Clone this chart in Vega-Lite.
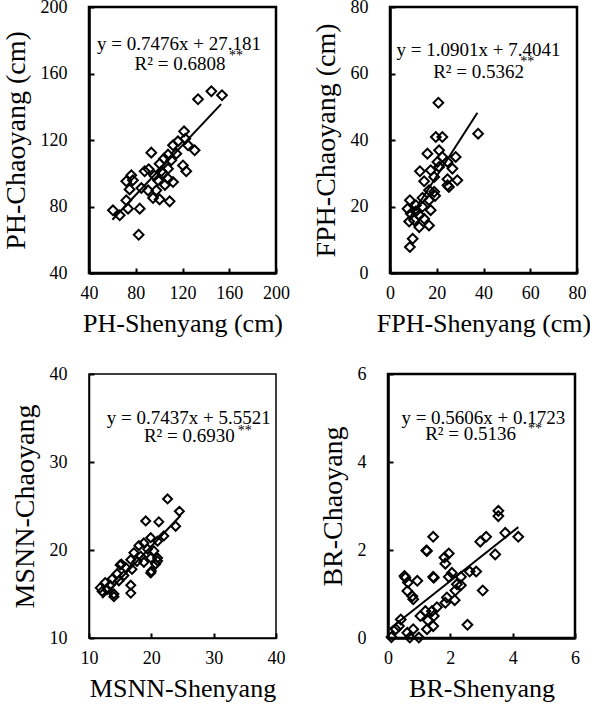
{
  "$schema": "https://vega.github.io/schema/vega-lite/v6.json",
  "padding": {"left": 0, "top": -4, "right": 0, "bottom": 0},
  "background": "white",
  "datasets": {
    "p1": [
      {"x":133.3,"y":144.5},{"x":144.7,"y":149.3},{"x":153.8,"y":146.9},{"x":121.3,"y":125.2},{"x":122.4,"y":120.8},
      {"x":116.1,"y":119.2},{"x":111.9,"y":116.8},{"x":124.7,"y":116.8},{"x":130.4,"y":113.8},{"x":93.3,"y":112.4},
      {"x":107.6,"y":111.2},{"x":104.2,"y":108.8},{"x":114.7,"y":111.8},{"x":110.4,"y":107.8},{"x":100.4,"y":105.7},
      {"x":120.4,"y":104.7},{"x":123.2,"y":101.2},{"x":87.6,"y":101.2},{"x":91.1,"y":102.4},{"x":101.9,"y":101.2},
      {"x":107.6,"y":102.7},{"x":76.2,"y":98.8},{"x":71.9,"y":95.2},{"x":77.6,"y":95.8},{"x":99.0,"y":95.8},
      {"x":107.6,"y":96.7},{"x":111.9,"y":94.7},{"x":74.7,"y":90.3},{"x":84.8,"y":91.1},{"x":90.5,"y":89.7},
      {"x":97.6,"y":89.7},{"x":94.8,"y":85.1},{"x":100.4,"y":84.3},{"x":109.0,"y":83.1},{"x":71.9,"y":83.7},
      {"x":73.4,"y":78.7},{"x":60.5,"y":77.7},{"x":66.3,"y":74.7},{"x":83.4,"y":78.7},{"x":82.5,"y":63.0},
      {"x":103.3,"y":100.0},{"x":96.0,"y":98.5},{"x":105.0,"y":93.0}
    ],
    "l1": [{"x":60,"y":72.0},{"x":153,"y":141.6}],
    "t1": [{"x":117,"y":177.7,"label":"y = 0.7476x + 27.181"},{"x":117.9,"y":165.7,"label":"R² = 0.6808"}],
    "s1": [{"x":165.8,"y":170.5,"label":"**"}],
    "p2": [
      {"x":20.7,"y":51.2},{"x":37.7,"y":41.9},{"x":19.6,"y":40.9},{"x":22.4,"y":40.9},{"x":16.0,"y":35.9},
      {"x":21.0,"y":36.9},{"x":22.4,"y":34.9},{"x":28.1,"y":34.9},{"x":20.3,"y":33.4},{"x":24.6,"y":33.4},
      {"x":12.8,"y":30.6},{"x":17.4,"y":30.9},{"x":21.0,"y":31.9},{"x":26.7,"y":31.4},{"x":14.6,"y":27.6},
      {"x":18.9,"y":28.9},{"x":24.6,"y":28.2},{"x":28.8,"y":27.9},{"x":25.2,"y":25.9},{"x":16.7,"y":24.9},
      {"x":18.9,"y":24.4},{"x":8.5,"y":21.9},{"x":13.9,"y":22.6},{"x":19.3,"y":23.2},{"x":16.7,"y":21.9},
      {"x":11.1,"y":20.4},{"x":7.5,"y":19.3},{"x":13.9,"y":19.9},{"x":17.4,"y":18.9},{"x":8.9,"y":17.8},
      {"x":12.5,"y":17.4},{"x":10.3,"y":15.9},{"x":14.6,"y":16.3},{"x":16.7,"y":14.3},{"x":12.5,"y":13.8},
      {"x":9.7,"y":10.3},{"x":8.5,"y":7.8},{"x":8.2,"y":15.5},{"x":24.6,"y":26.4},{"x":11.0,"y":18.5}
    ],
    "l2": [{"x":8,"y":16.1},{"x":37.4,"y":48.2}],
    "t2": [{"x":37.9,"y":67.1,"label":"y = 1.0901x + 7.4041"},{"x":37.9,"y":60.5,"label":"R² = 0.5362"}],
    "s2": [{"x":58.7,"y":63.5,"label":"**"}],
    "p3": [
      {"x":22.6,"y":25.8},{"x":24.5,"y":24.4},{"x":19.1,"y":23.3},{"x":21.2,"y":23.2},{"x":23.9,"y":22.7},
      {"x":22.0,"y":21.6},{"x":19.9,"y":21.4},{"x":21.0,"y":21.0},{"x":18.8,"y":20.8},{"x":18.0,"y":20.5},
      {"x":19.4,"y":20.1},{"x":20.4,"y":19.9},{"x":17.2,"y":19.7},{"x":18.3,"y":19.3},{"x":19.9,"y":19.1},
      {"x":21.0,"y":19.1},{"x":16.7,"y":18.9},{"x":17.7,"y":18.7},{"x":18.8,"y":18.6},{"x":20.7,"y":18.4},
      {"x":15.0,"y":18.3},{"x":15.9,"y":18.0},{"x":16.9,"y":17.8},{"x":19.9,"y":17.4},{"x":14.5,"y":17.3},
      {"x":15.6,"y":17.1},{"x":13.7,"y":16.7},{"x":14.8,"y":16.5},{"x":12.6,"y":16.3},{"x":13.4,"y":16.0},
      {"x":16.7,"y":16.0},{"x":11.8,"y":15.7},{"x":14.0,"y":15.0},{"x":16.7,"y":15.1},{"x":12.9,"y":15.5},
      {"x":20.0,"y":17.6},{"x":21.0,"y":18.75},{"x":14.0,"y":14.7},{"x":12.1,"y":15.3},{"x":15.2,"y":18.4}
    ],
    "l3": [{"x":12.1,"y":14.55},{"x":24.7,"y":23.92}],
    "t3": [{"x":26.0,"y":35.0,"label":"y = 0.7437x  + 5.5521"},{"x":26.1,"y":32.9,"label":"R² = 0.6930"}],
    "s3": [{"x":35.0,"y":33.5,"label":"**"}],
    "p4": [
      {"x":3.54,"y":2.89},{"x":3.54,"y":2.77},{"x":3.76,"y":2.39},{"x":4.18,"y":2.30},{"x":2.96,"y":2.19},
      {"x":3.15,"y":2.30},{"x":3.44,"y":1.90},{"x":1.45,"y":2.30},{"x":1.23,"y":1.99},{"x":1.95,"y":1.92},
      {"x":1.81,"y":1.83},{"x":1.84,"y":1.69},{"x":2.05,"y":1.48},{"x":2.62,"y":1.51},{"x":2.83,"y":1.51},
      {"x":0.53,"y":1.41},{"x":1.45,"y":1.39},{"x":1.95,"y":1.39},{"x":2.34,"y":1.39},{"x":0.64,"y":1.26},
      {"x":0.94,"y":1.30},{"x":2.34,"y":1.20},{"x":2.16,"y":1.08},{"x":3.04,"y":1.08},{"x":0.62,"y":1.07},
      {"x":0.78,"y":0.95},{"x":0.81,"y":0.88},{"x":1.89,"y":0.92},{"x":2.14,"y":0.86},{"x":1.84,"y":0.80},
      {"x":1.57,"y":0.70},{"x":1.41,"y":0.61},{"x":1.20,"y":0.61},{"x":1.04,"y":0.50},{"x":1.47,"y":0.50},
      {"x":1.28,"y":0.40},{"x":0.41,"y":0.42},{"x":0.35,"y":0.27},{"x":1.45,"y":0.27},{"x":1.25,"y":0.20},
      {"x":2.55,"y":0.30},{"x":0.81,"y":0.20},{"x":0.62,"y":0.12},{"x":0.11,"y":0.02},{"x":0.70,"y":0.01},
      {"x":0.99,"y":0.01},{"x":0.25,"y":0.20},{"x":0.56,"y":1.37},{"x":1.25,"y":1.98},{"x":1.47,"y":1.37},
      {"x":2.21,"y":1.22}
    ],
    "l4": [{"x":0.06,"y":0.21},{"x":4.18,"y":2.52}],
    "t4": [{"x":3.06,"y":5.0,"label":"y = 0.5606x + 0.1723"},{"x":2.65,"y":4.64,"label":"R² = 0.5136"}],
    "s4": [{"x":4.72,"y":4.75,"label":"**"}]
  },
  "config": {
    "font": "Liberation Serif",
    "view": {"stroke": "black", "strokeWidth": 2.5},
    "axis": {
      "grid": false,
      "domainColor": "black",
      "domainWidth": 2.5,
      "tickColor": "black",
      "tickWidth": 2,
      "tickSize": -5,
      "labelFont": "Liberation Serif",
      "labelFontSize": 18,
      "labelColor": "black",
      "titleFont": "Liberation Serif",
      "titleFontWeight": "normal",
      "titleColor": "black",
      "labelFlush": false,
      "labelOverlap": false
    },
    "axisX": {"labelPadding": 16, "titleFontSize": 26, "titlePadding": 8},
    "axisY": {"labelPadding": 27, "titleFontSize": 28, "titlePadding": 10},
    "text": {"font": "Liberation Serif", "color": "black"}
  },
  "spacing": 25,
  "vconcat": [
    {
      "spacing": 19,
      "hconcat": [
        {
          "width": 187, "height": 266,
          "encoding": {
            "x": {"field": "x", "type": "quantitative", "scale": {"domain": [40, 200], "nice": false, "zero": false}, "axis": {"values": [40, 80, 120, 160, 200], "title": "PH-Shenyang (cm)"}},
            "y": {"field": "y", "type": "quantitative", "scale": {"domain": [40, 200], "nice": false, "zero": false}, "axis": {"values": [40, 80, 120, 160, 200], "title": "PH-Chaoyang (cm)"}}
          },
          "layer": [
            {"data": {"name": "p1"}, "mark": {"type": "point", "shape": "diamond", "filled": false, "stroke": "black", "strokeWidth": 2, "size": 95, "opacity": 1}},
            {"data": {"name": "l1"}, "mark": {"type": "line", "color": "black", "strokeWidth": 2}},
            {"data": {"name": "t1"}, "mark": {"type": "text", "fontSize": 19, "align": "center", "baseline": "middle"}, "encoding": {"text": {"field": "label"}}},
            {"data": {"name": "s1"}, "mark": {"type": "text", "fontSize": 14, "align": "center", "baseline": "middle"}, "encoding": {"text": {"field": "label"}}}
          ]
        },
        {
          "width": 187, "height": 266,
          "encoding": {
            "x": {"field": "x", "type": "quantitative", "scale": {"domain": [0, 80], "nice": false, "zero": false}, "axis": {"values": [0, 20, 40, 60, 80], "title": "FPH-Shenyang (cm)"}},
            "y": {"field": "y", "type": "quantitative", "scale": {"domain": [0, 80], "nice": false, "zero": false}, "axis": {"values": [0, 20, 40, 60, 80], "title": "FPH-Chaoyang (cm)"}}
          },
          "layer": [
            {"data": {"name": "p2"}, "mark": {"type": "point", "shape": "diamond", "filled": false, "stroke": "black", "strokeWidth": 2, "size": 95, "opacity": 1}},
            {"data": {"name": "l2"}, "mark": {"type": "line", "color": "black", "strokeWidth": 2}},
            {"data": {"name": "t2"}, "mark": {"type": "text", "fontSize": 19, "align": "center", "baseline": "middle"}, "encoding": {"text": {"field": "label"}}},
            {"data": {"name": "s2"}, "mark": {"type": "text", "fontSize": 14, "align": "center", "baseline": "middle"}, "encoding": {"text": {"field": "label"}}}
          ]
        }
      ]
    },
    {
      "spacing": 31,
      "hconcat": [
        {
          "width": 187, "height": 264,
          "view": {"strokeWidth": 1.5},
          "encoding": {
            "x": {"field": "x", "type": "quantitative", "scale": {"domain": [10, 40], "nice": false, "zero": false}, "axis": {"values": [10, 20, 30, 40], "title": "MSNN-Shenyang", "domainWidth": 1.5}},
            "y": {"field": "y", "type": "quantitative", "scale": {"domain": [10, 40], "nice": false, "zero": false}, "axis": {"values": [10, 20, 30, 40], "title": "MSNN-Chaoyang", "domainWidth": 1.5}}
          },
          "layer": [
            {"data": {"name": "p3"}, "mark": {"type": "point", "shape": "diamond", "filled": false, "stroke": "black", "strokeWidth": 2, "size": 80, "opacity": 1}},
            {"data": {"name": "l3"}, "mark": {"type": "line", "color": "black", "strokeWidth": 2}},
            {"data": {"name": "t3"}, "mark": {"type": "text", "fontSize": 19, "align": "center", "baseline": "middle"}, "encoding": {"text": {"field": "label"}}},
            {"data": {"name": "s3"}, "mark": {"type": "text", "fontSize": 14, "align": "center", "baseline": "middle"}, "encoding": {"text": {"field": "label"}}}
          ]
        },
        {
          "width": 187, "height": 264,
          "encoding": {
            "x": {"field": "x", "type": "quantitative", "scale": {"domain": [0, 6], "nice": false, "zero": false}, "axis": {"values": [0, 2, 4, 6], "title": "BR-Shenyang"}},
            "y": {"field": "y", "type": "quantitative", "scale": {"domain": [0, 6], "nice": false, "zero": false}, "axis": {"values": [0, 2, 4, 6], "title": "BR-Chaoyang"}}
          },
          "layer": [
            {"data": {"name": "p4"}, "mark": {"type": "point", "shape": "diamond", "filled": false, "stroke": "black", "strokeWidth": 2, "size": 95, "opacity": 1}},
            {"data": {"name": "l4"}, "mark": {"type": "line", "color": "black", "strokeWidth": 2}},
            {"data": {"name": "t4"}, "mark": {"type": "text", "fontSize": 19, "align": "center", "baseline": "middle"}, "encoding": {"text": {"field": "label"}}},
            {"data": {"name": "s4"}, "mark": {"type": "text", "fontSize": 14, "align": "center", "baseline": "middle"}, "encoding": {"text": {"field": "label"}}}
          ]
        }
      ]
    }
  ]
}
